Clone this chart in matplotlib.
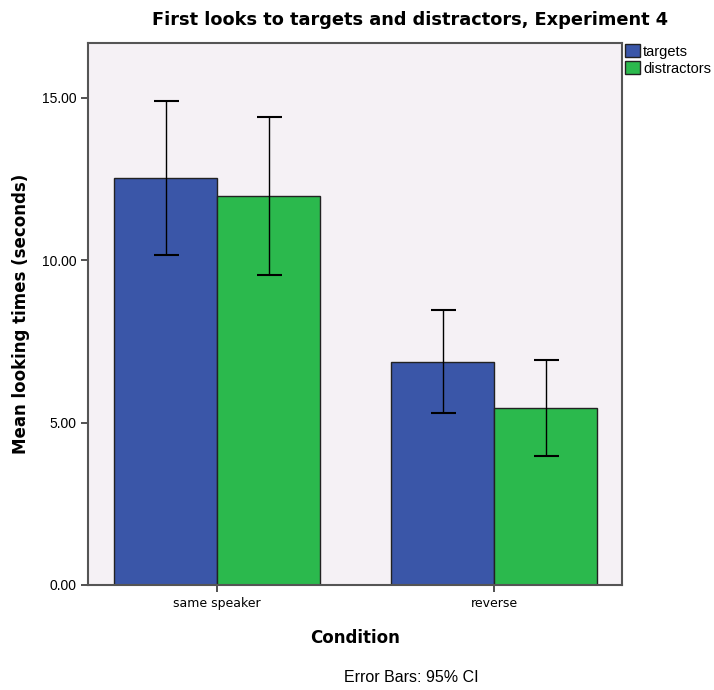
import matplotlib
matplotlib.use("Agg")
import matplotlib.pyplot as plt
import numpy as np
from matplotlib.patches import Patch

plt.rcParams['font.family'] = ['Liberation Sans', 'DejaVu Sans']

categories = ["same speaker", "reverse"]
series = ["targets", "distractors"]
targets_mean = [12.53, 6.88]
targets_lo = [10.16, 5.29]
targets_hi = [14.90, 8.47]
distract_mean = [11.98, 5.44]
distract_lo = [9.55, 3.97]
distract_hi = [14.41, 6.93]
yticks = [0.0, 5.0, 10.0, 15.0]

colors = ["#3A56A8", "#2BB94D"]

fig = plt.figure(figsize=(7.14, 6.9), dpi=100)
ax = fig.add_axes([88/714, 1-585/690, (622-88)/714, (585-43)/690])
ax.set_facecolor("#F5F1F5")

x = np.arange(len(categories))
w = 0.372
means = [targets_mean, distract_mean]
los = [targets_lo, distract_lo]
his = [targets_hi, distract_hi]
for i in range(2):
    pos = x + (i - 0.5) * w
    m = np.array(means[i]); lo = np.array(los[i]); hi = np.array(his[i])
    ax.bar(pos, m, width=w, color=colors[i], edgecolor="#222222", linewidth=1.0, zorder=2)
    ax.errorbar(pos, m, yerr=[m - lo, hi - m], fmt="none", ecolor="black",
                elinewidth=1.0, capsize=9, capthick=1.5, zorder=3)

ax.set_xlim(-0.466, 1.462)
ax.set_ylim(0, 16.69)
ax.set_yticks(yticks)
ax.set_yticklabels([f"{v:.2f}" for v in yticks], fontsize=10)
ax.set_xticks(x)
ax.set_xticklabels(categories, fontsize=9, family=['DejaVu Sans'])
ax.tick_params(axis='both', direction='out', length=5, width=1.2, color="#333333")
for s in ax.spines.values():
    s.set_color("#555555")
    s.set_linewidth(1.5)

ax.set_xlabel("Condition", fontsize=12, fontweight='bold', labelpad=14, family=['DejaVu Sans'])
ax.set_ylabel("Mean looking times (seconds)", fontsize=12, fontweight='bold', labelpad=8,
              family=['DejaVu Sans'])

fig.text(410/714, 1-20/690, "First looks to targets and distractors, Experiment 4",
         ha='center', va='center', fontsize=12.8, fontweight='bold', family=['DejaVu Sans'])
fig.text(411/714, 1-678/690, "Error Bars: 95% CI", ha='center', va='center', fontsize=11.5)

handles = [Patch(facecolor=colors[i], edgecolor="#222222", label=series[i]) for i in range(2)]
fig.legend(handles=handles, loc='upper left', bbox_to_anchor=(622/714, 1-41/690),
           frameon=False, fontsize=10.5, handlelength=1.05, handleheight=1.05,
           handletextpad=0.2, labelspacing=0.15, borderaxespad=0, borderpad=0.2)

fig.savefig("out.png", dpi=100, facecolor="white")
